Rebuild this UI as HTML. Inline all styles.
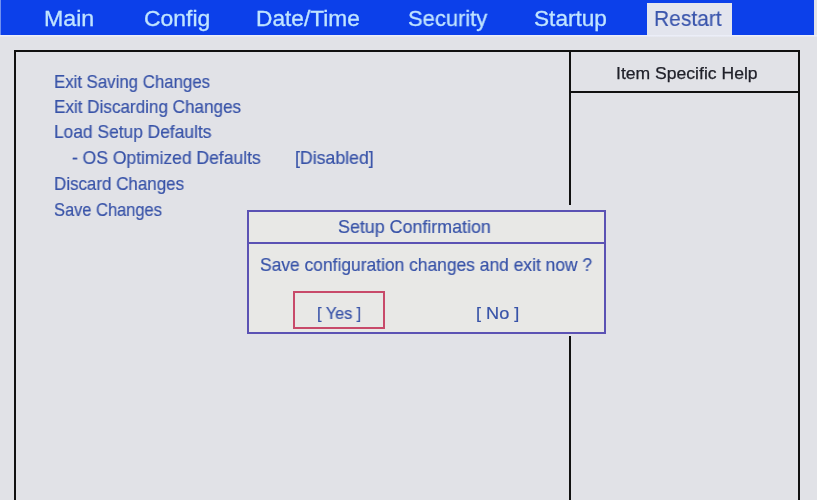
<!DOCTYPE html>
<html><head><meta charset="utf-8"><style>
html,body{margin:0;padding:0;}
body{width:817px;height:500px;position:relative;overflow:hidden;background:#e1e2e7;font-family:"Liberation Sans",sans-serif;}
.abs{position:absolute;}
.t{position:absolute;line-height:1;white-space:pre;transform-origin:0 0;will-change:transform;}
</style></head><body>
<div class="abs" style="left:0;top:0;width:1px;height:35px;background:#7090f0"></div>
<div class="abs" style="left:1px;top:0;width:813px;height:35px;background:#0c40ea"></div>
<div class="abs" style="left:0;top:35px;width:817px;height:2px;background:linear-gradient(#eef1fb,#e4e6ee)"></div>
<div class="abs" style="left:647px;top:3px;width:85px;height:32px;background:#e3e5ee"></div>
<div class="abs" style="left:14px;top:50px;width:786px;height:460px;box-sizing:border-box;border:2px solid #111111;border-bottom:none"></div>
<div class="abs" style="left:569px;top:50px;width:2px;height:450px;background:#111111"></div>
<div class="abs" style="left:569px;top:91px;width:231px;height:2px;background:#111111"></div>
<div class="abs" style="left:242px;top:205px;width:369px;height:131px;background:#e1e2e7"></div>
<div class="abs" style="left:247px;top:210px;width:359px;height:124px;box-sizing:border-box;border:2px solid #5b52b4;background:#e8e8e6"></div>
<div class="abs" style="left:247px;top:242px;width:359px;height:2px;background:#5b52b4"></div>
<div class="abs" style="left:293px;top:291px;width:92px;height:38px;box-sizing:border-box;border:2px solid #c84a6a"></div>
<span class="t" style="left:44.00px;top:7.77px;font-size:22.6px;color:#c0e4ff;transform:scaleX(1.0264);-webkit-text-stroke:0.3px #c0e4ff;">Main</span>
<span class="t" style="left:144.00px;top:7.77px;font-size:22.6px;color:#c0e4ff;transform:scaleX(1.0144);-webkit-text-stroke:0.3px #c0e4ff;">Config</span>
<span class="t" style="left:256.00px;top:7.77px;font-size:22.6px;color:#c0e4ff;transform:scaleX(1.0036);-webkit-text-stroke:0.3px #c0e4ff;">Date/Time</span>
<span class="t" style="left:407.50px;top:7.77px;font-size:22.6px;color:#c0e4ff;transform:scaleX(0.9711);-webkit-text-stroke:0.3px #c0e4ff;">Security</span>
<span class="t" style="left:534.00px;top:7.77px;font-size:22.6px;color:#c0e4ff;transform:scaleX(1.0014);-webkit-text-stroke:0.3px #c0e4ff;">Startup</span>
<span class="t" style="left:654.00px;top:7.77px;font-size:22.6px;color:#3a55ac;transform:scaleX(0.9289);-webkit-text-stroke:0.15px #3a55ac;">Restart</span>
<span class="t" style="left:54.00px;top:73.39px;font-size:18.2px;color:#3853a8;transform:scaleX(0.9239);-webkit-text-stroke:0.2px #3853a8;">Exit Saving Changes</span>
<span class="t" style="left:54.00px;top:97.69px;font-size:18.2px;color:#3853a8;transform:scaleX(0.9394);-webkit-text-stroke:0.2px #3853a8;">Exit Discarding Changes</span>
<span class="t" style="left:54.00px;top:123.49px;font-size:18.2px;color:#3853a8;transform:scaleX(0.9548);-webkit-text-stroke:0.2px #3853a8;">Load Setup Defaults</span>
<span class="t" style="left:72.00px;top:148.99px;font-size:18.2px;color:#3853a8;transform:scaleX(0.9623);-webkit-text-stroke:0.2px #3853a8;">- OS Optimized Defaults</span>
<span class="t" style="left:295.00px;top:148.99px;font-size:18.2px;color:#3853a8;transform:scaleX(0.9733);-webkit-text-stroke:0.2px #3853a8;">[Disabled]</span>
<span class="t" style="left:54.00px;top:174.59px;font-size:18.2px;color:#3853a8;transform:scaleX(0.932);-webkit-text-stroke:0.2px #3853a8;">Discard Changes</span>
<span class="t" style="left:54.00px;top:201.49px;font-size:18.2px;color:#3853a8;transform:scaleX(0.9043);-webkit-text-stroke:0.2px #3853a8;">Save Changes</span>
<span class="t" style="left:616.00px;top:64.82px;font-size:17.4px;color:#20212a;transform:scaleX(1.0103);-webkit-text-stroke:0.25px #20212a;">Item Specific Help</span>
<span class="t" style="left:338.00px;top:218.29px;font-size:18.2px;color:#3853a8;transform:scaleX(0.9818);-webkit-text-stroke:0.2px #3853a8;">Setup Confirmation</span>
<span class="t" style="left:260.00px;top:256.39px;font-size:18.2px;color:#3853a8;transform:scaleX(0.9574);-webkit-text-stroke:0.2px #3853a8;">Save configuration changes and exit now ?</span>
<span class="t" style="left:317.00px;top:306.15px;font-size:16.6px;color:#3853a8;transform:scaleX(0.9794);-webkit-text-stroke:0.2px #3853a8;">[ Yes ]</span>
<span class="t" style="left:476.00px;top:306.15px;font-size:16.6px;color:#3853a8;transform:scaleX(1.0939);-webkit-text-stroke:0.2px #3853a8;">[ No ]</span>
</body></html>
